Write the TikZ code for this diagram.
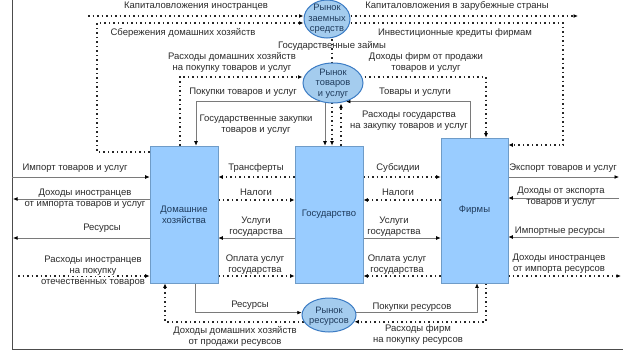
\documentclass[tikz,border=0pt]{standalone}
\usepackage{fontspec}
\setmainfont{Liberation Sans}
\usetikzlibrary{arrows.meta,shapes.geometric,calc}
\pgfdeclarelayer{bg}
\pgfsetlayers{bg,main}
\definecolor{boxfill}{HTML}{99CCFF}
\definecolor{boxline}{HTML}{6F9CC8}
\definecolor{ellfill}{HTML}{A4CCEE}
\definecolor{ellline}{HTML}{3C7CC4}
\definecolor{nodetext}{HTML}{1F3B5C}
\definecolor{txt}{HTML}{2B2B2B}
\definecolor{solidln}{HTML}{7A7A7A}
\newcommand{\wl}[1]{\colorbox{white}{#1}}
\setlength{\fboxsep}{0.4pt}
\begin{document}
\begin{tikzpicture}[x=1pt,y=-1pt,
  font=\fontsize{9.5}{11}\selectfont,
  lbl/.style={inner sep=0pt, text=txt, align=center},
  stock/.style={rectangle, draw=boxline, fill=boxfill, line width=0.6pt, text=nodetext, align=center, inner sep=1pt},
  market/.style={ellipse, draw=ellline, fill=ellfill, line width=1pt, inner sep=0pt},
  mtext/.style={text=nodetext, align=center, inner sep=0pt, font=\fontsize{9.3}{10.5}\selectfont},
  money/.style={draw=black!85, line width=1.5pt, dash pattern=on 1.5pt off 3pt},
  flow/.style={draw=solidln, line width=0.7pt},
  tip/.style={-{Latex[length=4.5pt,width=3.8pt,color=black]}},
]
\useasboundingbox (0,0) rectangle (623,356);

% stocks
\node[stock, minimum width=68pt, minimum height=137pt] (hh) at (184,214.5) {Домашние\\хозяйства};
\node[stock, minimum width=68pt, minimum height=137pt] (gov) at (329,214.5) {Государство};
\node[stock, minimum width=67pt, minimum height=145pt] (firms) at (474.5,210.5) {Фирмы};

% markets
\node[market, minimum width=46pt, minimum height=38pt] (loan) at (327,19) {};
\node[mtext] (loanT) at (327,19) {Рынок\\заемных\\средств};
\node[market, minimum width=60pt, minimum height=40pt] (goods) at (333,83) {};
\node[mtext] (goodsT) at (333,83.5) {Рынок\\товаров\\и услуг};
\node[market, minimum width=54pt, minimum height=34pt] (res) at (329,315) {};
\node[mtext] (resT) at (329,316.5) {Рынок\\ресурсов};

\begin{pgfonlayer}{bg}
\fill[white] (0,0) rectangle (623,356);
\draw[gray!60!black, line width=0.8pt] (12,0) -- (12,349) -- (623,349);

% loan market
\coordinate (kiA) at (88,16);
\draw[money,tip] (kiA) -- (kiA -| loan.west);
\coordinate (kzB) at (578,16);
\draw[money,tip] (kzB -| loan.east) -- (kzB);
\coordinate (sbA) at (97,152); \coordinate (sbB) at (97,23);
\draw[money,tip] (sbA -| hh.west) -- (sbA) -- (sbB) -- (sbB -| loan.west);
\coordinate (ikA) at (563,23); \coordinate (ikB) at (563,145);
\draw[money,tip] (ikA -| loan.east) -- (ikA) -- (ikB) -- (ikB -| firms.east);
\coordinate (gzA) at (332,30);
\draw[money,tip] (gzA) -- (gzA |- gov.north);

% goods market
\coordinate (rhA) at (180,77);
\draw[money,tip] (rhA |- hh.north) -- (rhA) -- (rhA -| goods.west);
\coordinate (pkA) at (196,100);
\draw[flow,tip] (goods.235) -| (pkA |- hh.north);
\coordinate (gpA) at (325,95);
\draw[flow,tip] (gpA) -- (gpA |- gov.north);
\coordinate (rgA) at (341,0);
\draw[money,tip] (rgA |- gov.north) -- (rgA |- goods.south);
\coordinate (dfA) at (486,77);
\draw[money,tip] (goods.center |- dfA) -- (dfA) -- (dfA |- firms.north);
\coordinate (tuA) at (470,0);
\draw[flow,tip] (tuA |- firms.north) |- (goods.-55);

% middle rows
\coordinate (r1) at (0,177); \coordinate (r2) at (0,200);
\coordinate (r3) at (0,238); \coordinate (r4) at (0,276);
\draw[money,tip] (r1 -| gov.west) -- (r1 -| hh.east);
\draw[money,tip] (r2 -| hh.east) -- (r2 -| gov.west);
\draw[flow,tip] (r3 -| gov.west) -- (r3 -| hh.east);
\draw[money,tip] (r4 -| hh.east) -- (r4 -| gov.west);
\draw[money,tip] (r1 -| gov.east) -- (r1 -| firms.west);
\draw[money,tip] (r2 -| firms.west) -- (r2 -| gov.east);
\draw[flow,tip] (r3 -| gov.east) -- (r3 -| firms.west);
\draw[money,tip] (r4 -| firms.west) -- (r4 -| gov.east);

% left outside
\coordinate (L1) at (12,177); \draw[flow,tip] (L1) -- (L1 -| hh.west);
\coordinate (L2) at (13,199); \draw[flow,tip] (L2 -| hh.west) -- (L2);
\coordinate (L3) at (13,238); \draw[flow,tip] (L3 -| hh.west) -- (L3);
\coordinate (L4) at (18,276); \draw[money,tip] (L4) -- (L4 -| hh.west);

% right outside
\coordinate (R1) at (619,177); \draw[flow,tip] (R1 -| firms.east) -- (R1);
\coordinate (R2) at (619,198); \draw[flow,tip] (R2) -- (R2 -| firms.east);
\coordinate (R3) at (619,237); \draw[flow,tip] (R3) -- (R3 -| firms.east);
\coordinate (R4) at (621,276); \draw[money,tip] (R4 -| firms.east) -- (R4);

% resource market
\coordinate (bR) at (195,0); \draw[flow,tip] (bR |- hh.south) |- (res.175);
\coordinate (bD) at (165,0); \draw[money,tip] (res.195) -| (bD |- hh.south);
\coordinate (bP) at (477,0); \draw[flow,tip] (res.5) -| (bP |- firms.south);
\coordinate (bF) at (486,0); \draw[money,tip] (bF |- firms.south) |- (res.-15);
\end{pgfonlayer}

% labels
\node[lbl] (tKI) at (196,6) {Капиталовложения иностранцев};
\node[lbl] (tKZ) at (457,6) {Капиталовложения в зарубежные страны};
\node[lbl] (tSB) at (183,33) {Сбережения домашних хозяйств};
\node[lbl] (tIK) at (455,33) {Инвестиционные кредиты фирмам};
\node[lbl] (tGZ) at (332,46) {Государственные займы};
\node[lbl] (tRH) at (232,62.5) {Расходы домашних хозяйств\\на покупку товаров и услуг};
\node[lbl] (tDF) at (426,62.5) {Доходы фирм от продажи\\товаров и услуг};
\node[lbl] (tPK) at (243,92) {Покупки товаров и услуг};
\node[lbl] (tTU) at (415,92) {Товары и услуги};
\node[lbl] (tGP) at (256,124.5) {Государственные закупки\\товаров и услуг};
\node[lbl] (tRG) at (409,121) {Расходы государства\\на закупку товаров и услуг};

\node[lbl] (tTR) at (256,168) {Трансферты};
\node[lbl] (tNA1) at (256,192) {Налоги};
\node[lbl] (tUG1) at (256,227) {Услуги\\государства};
\node[lbl] (tOU1) at (255,264.5) {\wl{Оплата услуг}\\\wl{государства}};
\node[lbl] (tSU) at (398,168) {Субсидии};
\node[lbl] (tNA2) at (398,192) {Налоги};
\node[lbl] (tUG2) at (394,227) {Услуги\\государства};
\node[lbl] (tOU2) at (397,264.5) {\wl{Оплата услуг}\\\wl{государства}};

\node[lbl] (tIM) at (75,168) {Импорт товаров и услуг};
\node[lbl] (tDI) at (85,199) {Доходы иностранцев\\от импорта товаров и услуг};
\node[lbl] (tRS) at (102,228) {Ресурсы};
\node[lbl] (tRI) at (93,271) {\wl{Расходы иностранцев}\\\wl{на покупку}\\\wl{отечественных товаров}};

\node[lbl] (tEX) at (563,168) {Экспорт товаров и услуг};
\node[lbl] (tDE) at (561,197) {Доходы от экспорта\\товаров и услуг};
\node[lbl] (tIR) at (560,231) {Импортные ресурсы};
\node[lbl] (tDR) at (559,264) {\wl{Доходы иностранцев}\\\wl{от импорта ресурсов}};

\node[lbl] (tRS2) at (250,305) {Ресурсы};
\node[lbl] (tDH) at (235,336) {Доходы домашних хозяйств\\от продажи ресувсов};
\node[lbl] (tPR) at (412,307) {Покупки ресурсов};
\node[lbl] (tRF) at (418,335) {Расходы фирм\\на покупку ресурсов};
\end{tikzpicture}
\end{document}
